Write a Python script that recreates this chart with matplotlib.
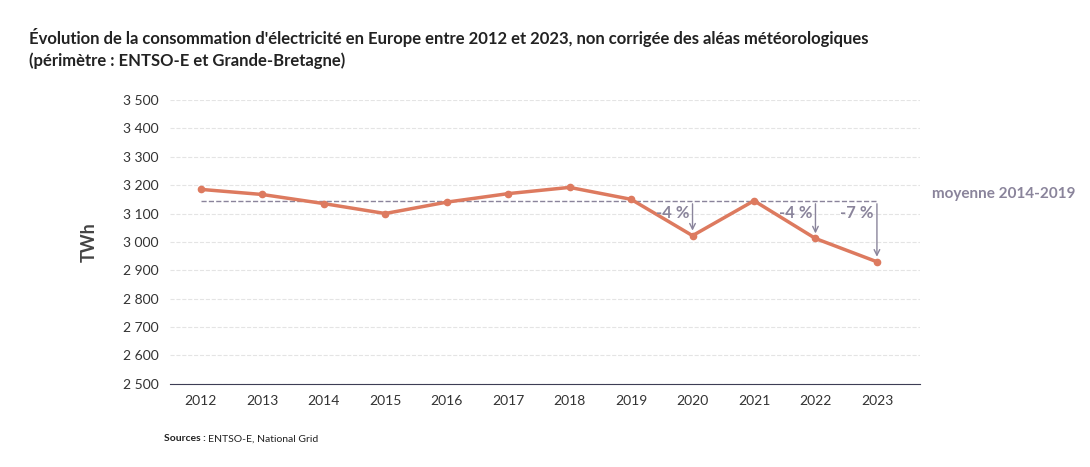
import matplotlib.pyplot as plt

years = [2012, 2013, 2014, 2015, 2016, 2017, 2018, 2019, 2020, 2021, 2022, 2023]
conso = [3185, 3167, 3135, 3100, 3140, 3170, 3192, 3150, 3022, 3145, 3012, 2930]
moyenne = 3144
annot_years = [2020, 2022, 2023]
annot_labels = ["-4 %", "-4 %", "-7 %"]
yticks = list(range(2500, 3501, 100))

plt.rcParams['font.family'] = ['Lato', 'DejaVu Sans']
fig = plt.figure(figsize=(10.9, 4.67), dpi=100)
ax = fig.add_axes([0.156, 0.178, 0.688, 0.608])
line_c = '#dd7a5f'
grey = '#8a849b'

ax.plot(years, conso, color=line_c, lw=2.5, marker='o', ms=4.5, zorder=3)
ax.plot([years[0], years[-1]], [moyenne, moyenne], ls='--', color=grey, lw=1, zorder=2)
ax.text(2023.9, moyenne, "moyenne 2014-2019", color=grey, fontsize=11, fontweight='bold', va='bottom', ha='left')
for yr, lab in zip(annot_years, annot_labels):
    v = conso[years.index(yr)]
    ax.annotate("", xy=(yr, v + 8), xytext=(yr, moyenne),
                arrowprops=dict(arrowstyle='->', color=grey, lw=1))
    ax.text(yr - 0.05, moyenne - 15, lab, color=grey, fontsize=12, fontweight='bold', ha='right', va='top')

ax.set_xlim(2011.5, 2023.7)
ax.set_ylim(2500, 3500)
ax.set_xticks(years)
ax.set_yticks(yticks)
ax.set_yticklabels([f"{t:,}".replace(",", " ") for t in yticks])
ax.grid(axis='y', ls='--', color='#e4e4e4', lw=0.8)
ax.set_axisbelow(True)
for s in ['top', 'right', 'left']:
    ax.spines[s].set_visible(False)
ax.spines['bottom'].set_color('#3d3d55')
ax.tick_params(axis='both', length=0, labelsize=10, colors='#333333', pad=8)
ax.set_ylabel("TWh", fontsize=13, fontweight='bold', color='#444444', labelpad=18)

fig.text(0.027, 0.94, "Évolution de la consommation d'électricité en Europe entre 2012 et 2023, non corrigée des aléas météorologiques\n(périmètre : ENTSO-E et Grande-Bretagne)",
         fontsize=12, fontweight='bold', color='#222222', va='top', linespacing=1.4)
fig.text(0.15, 0.055, "Sources :", fontsize=7.5, fontweight='bold', color='#222222')
fig.text(0.191, 0.055, "ENTSO-E, National Grid", fontsize=7.5, color='#222222')
fig.savefig("out.png", dpi=100)
